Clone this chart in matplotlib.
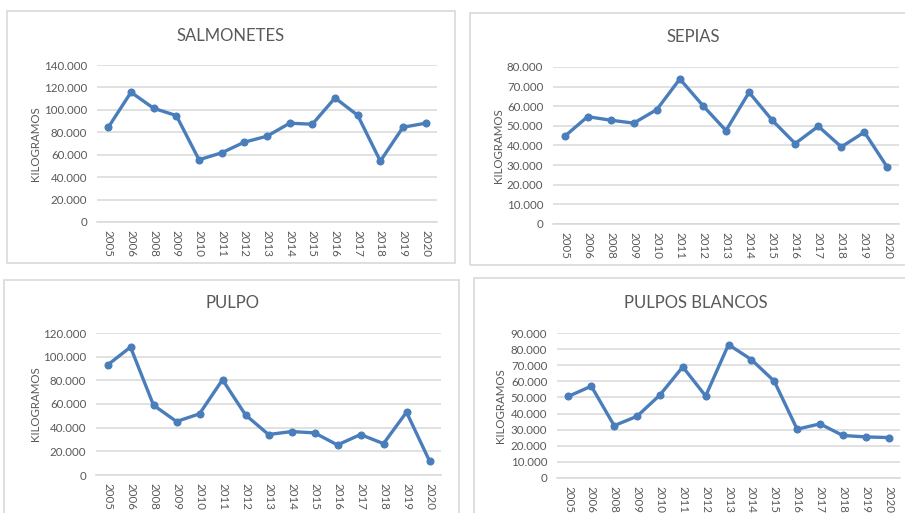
import matplotlib
matplotlib.use("Agg")
import matplotlib.pyplot as plt
from matplotlib.patches import Rectangle
from matplotlib.ticker import FuncFormatter

plt.rcParams['font.family'] = ['Lato', 'DejaVu Sans']

years = ["2005", "2006", "2008", "2009", "2010", "2011", "2012", "2013",
         "2014", "2015", "2016", "2017", "2018", "2019", "2020"]

salmonetes = [84500, 115700, 101400, 94900, 55500, 61700, 71200, 76500,
              88100, 87200, 110600, 95200, 54300, 84500, 88100]
sepias = [44600, 54700, 52900, 51400, 58300, 73900, 60300, 47600,
          67100, 52900, 41000, 49800, 39300, 46800, 28800]
pulpo = [92900, 108100, 59000, 45200, 51700, 80500, 50800, 34200,
         36700, 35600, 25400, 34200, 26500, 53100, 11900]
pulpos_blancos = [50700, 57000, 32500, 38300, 51500, 69000, 50900, 82800,
                  73500, 60100, 30300, 33600, 26400, 25500, 25100]

titles = ["SALMONETES", "SEPIAS", "PULPO", "PULPOS BLANCOS"]
series = [salmonetes, sepias, pulpo, pulpos_blancos]
ymax = [140000, 80000, 120000, 90000]
ystep = [20000, 10000, 20000, 10000]

W, H = 905, 513
fig = plt.figure(figsize=(W / 100, H / 100), dpi=100)

# plot areas in pixels: (left, top, right, bottom)
areas = [(97, 65, 437, 222), (553, 67, 899, 224),
         (96, 333, 441, 475), (557, 333, 900, 478)]
# panel borders in pixels
borders = [(7, 11, 455, 263), (470, 13, 910, 265),
           (4, 280, 459, 520), (474, 278, 910, 520)]
title_xy = [(231, 36), (693, 37), (232, 303), (696, 303)]
ylabel_x = [36, 498, 35, 500]

text_col = "#595959"
line_col = "#4A7EBB"
grid_col = "#D9D9D9"

def fmt(v, pos):
    v = int(round(v))
    return f"{v:,}".replace(",", ".")

for i in range(4):
    bl, bt, br, bb = borders[i]
    fig.patches.append(Rectangle((bl / W, 1 - bb / H), (br - bl) / W, (bb - bt) / H,
                                 transform=fig.transFigure, fill=False,
                                 edgecolor="#D9D9D9", lw=1.2))
    l, t, r, b = areas[i]
    ax = fig.add_axes([l / W, 1 - b / H, (r - l) / W, (b - t) / H])
    x = list(range(len(years)))
    ax.plot(x, series[i], color=line_col, lw=2.4, marker='o', markersize=4.8,
            solid_joinstyle='round')
    ax.set_xlim(-0.5, len(years) - 0.5)
    ax.set_ylim(0, ymax[i])
    ticks = list(range(0, ymax[i] + 1, ystep[i]))
    ax.set_yticks(ticks)
    ax.yaxis.set_major_formatter(FuncFormatter(fmt))
    ax.set_xticks(x)
    ax.set_xticklabels(years, rotation=-90)
    ax.grid(axis='y', color=grid_col, lw=1.1)
    ax.set_axisbelow(True)
    for s in ['top', 'right', 'left']:
        ax.spines[s].set_visible(False)
    ax.spines['bottom'].set_color(grid_col)
    ax.spines['bottom'].set_linewidth(1.1)
    ax.tick_params(axis='both', length=0, labelsize=8.3, labelcolor=text_col)
    ax.tick_params(axis='y', pad=7)
    ax.tick_params(axis='x', pad=6)
    ax.set_facecolor('none')
    tx, ty = title_xy[i]
    fig.text(tx / W, 1 - ty / H, titles[i],
             ha='center', va='center', fontsize=12, color=text_col)
    fig.text(ylabel_x[i] / W, 1 - (t + b) / 2 / H, "KILOGRAMOS", rotation=90,
             ha='center', va='center', fontsize=8.3, color=text_col)

fig.savefig("out.png", dpi=100, facecolor='white')
